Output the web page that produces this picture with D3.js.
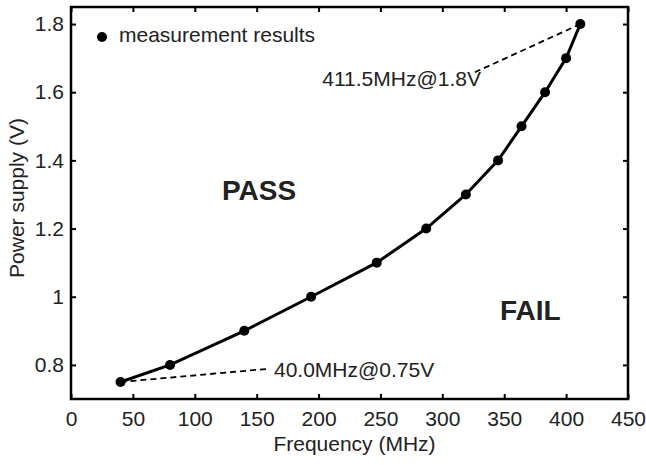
<!DOCTYPE html>
<html>
<head>
<meta charset="utf-8">
<script src="https://cdn.jsdelivr.net/npm/d3@7"></script>
<style>
  body { margin: 0; background: #fff; }
  svg text { font-family: "Liberation Sans", Arial, sans-serif; fill: #222; }
</style>
</head>
<body>
<svg width="646" height="465"></svg>
<script>
// measured points
const freq = [40, 80, 140, 194, 247, 287, 319, 345, 364, 383, 400, 411.5]
const volt = [0.75, 0.8, 0.9, 1.0, 1.1, 1.2, 1.3, 1.4, 1.5, 1.6, 1.7, 1.8]
const xTicks = [0, 50, 100, 150, 200, 250, 300, 350, 400, 450]
const yTicks = [0.8, 1.0, 1.2, 1.4, 1.6, 1.8]
// callouts: point, end of dashed leader, text anchor (data units)
const notes = [
  { f: 40, v: 0.75, lf: 158, lv: 0.788, tf: 164, tv: 0.766, text: "40.0MHz@0.75V" },
  { f: 411.5, v: 1.8, lf: 326, lv: 1.658, tf: 203, tv: 1.617, text: "411.5MHz@1.8V" }
]

const svg = d3.select("svg"),
  mLeft = 71, mRight = 628, mTop = 7, mBottom = 399

const x = d3.scaleLinear().domain([0, 450]).range([mLeft, mRight])
const y = d3.scaleLinear().domain([0.7, 1.85]).range([mBottom, mTop])

const data = freq.map((f, i) => ({ f: f, v: volt[i] }))

// axes, ticks pointing inwards
function styleAxis(g) {
  g.select(".domain").remove()
  g.selectAll(".tick line").attr("stroke", "#000").attr("stroke-width", 2)
  g.selectAll(".tick text").style("font-size", "21px").attr("fill", "#222")
}

svg.append("g")
  .attr("transform", "translate(0," + mBottom + ")")
  .call(d3.axisBottom(x).tickValues(xTicks).tickSize(-5).tickPadding(12).tickFormat(d3.format("d")))
  .call(styleAxis)

svg.append("g")
  .attr("transform", "translate(0," + mTop + ")")
  .call(d3.axisTop(x).tickValues(xTicks).tickSize(-5).tickFormat(""))
  .call(styleAxis)

svg.append("g")
  .attr("transform", "translate(" + mLeft + ",0)")
  .call(d3.axisLeft(y).tickValues(yTicks).tickSize(-5).tickPadding(7).tickFormat(d => d == 1 ? "1" : d3.format(".1f")(d)))
  .call(styleAxis)

svg.append("g")
  .attr("transform", "translate(" + mRight + ",0)")
  .call(d3.axisRight(y).tickValues(yTicks).tickSize(-5).tickFormat(""))
  .call(styleAxis)

svg.append("rect")
  .attr("x", mLeft).attr("y", mTop)
  .attr("width", mRight - mLeft).attr("height", mBottom - mTop)
  .attr("fill", "none").attr("stroke", "#000").attr("stroke-width", 2.5)

// callouts
notes.forEach(function (n) {
  svg.append("line")
    .attr("x1", x(n.f)).attr("y1", y(n.v))
    .attr("x2", x(n.lf)).attr("y2", y(n.lv))
    .attr("stroke", "#000").attr("stroke-width", 1.8)
    .attr("stroke-dasharray", "6,4")
  svg.append("text")
    .attr("x", x(n.tf)).attr("y", y(n.tv))
    .style("font-size", "21px")
    .text(n.text)
})

// curve
svg.append("path")
  .datum(data)
  .attr("fill", "none")
  .attr("stroke", "#000")
  .attr("stroke-width", 3)
  .attr("d", d3.line().x(d => x(d.f)).y(d => y(d.v)))

svg.selectAll(".pt")
  .data(data)
  .enter().append("circle")
  .attr("cx", d => x(d.f))
  .attr("cy", d => y(d.v))
  .attr("r", 5)
  .attr("fill", "#000")

// legend
svg.append("circle").attr("cx", 102).attr("cy", 37).attr("r", 5).attr("fill", "#000")
svg.append("text").attr("x", 119).attr("y", 42).style("font-size", "21px").text("measurement results")

// regions
svg.append("text").attr("x", 222).attr("y", 200)
  .style("font-size", "28px").style("font-weight", "bold").text("PASS")
svg.append("text").attr("x", 500).attr("y", 320)
  .style("font-size", "28px").style("font-weight", "bold").text("FAIL")

// axis titles
svg.append("text")
  .attr("x", (mLeft + mRight) / 2 + 5).attr("y", 451)
  .attr("text-anchor", "middle")
  .style("font-size", "21px")
  .text("Frequency (MHz)")

svg.append("text")
  .attr("transform", "translate(24,198) rotate(-90)")
  .attr("text-anchor", "middle")
  .style("font-size", "21px")
  .text("Power supply (V)")
</script>
</body>
</html>
